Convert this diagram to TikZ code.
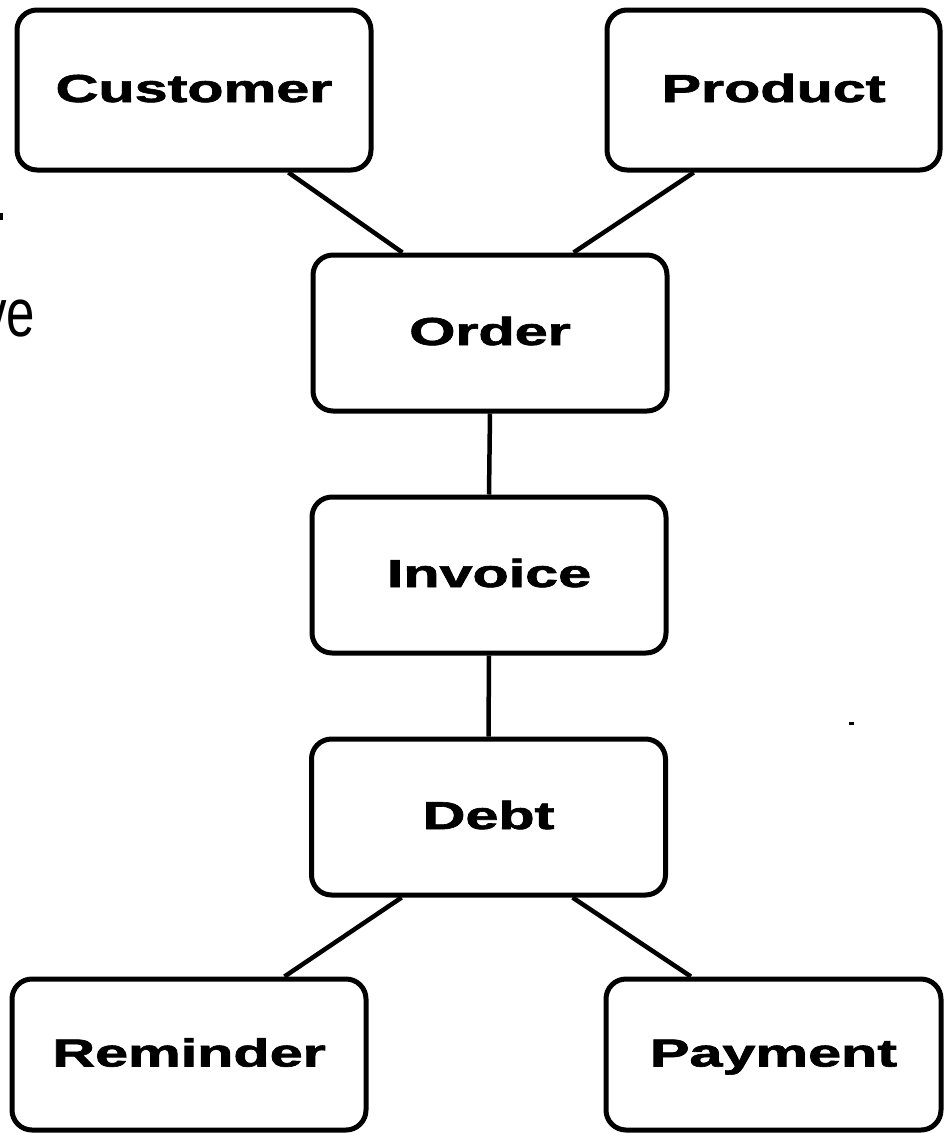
\documentclass[tikz,border=0pt]{standalone}
\usepackage{graphicx}
\usepackage{fontspec}
\setmainfont{Liberation Sans}
\newfontfamily\boxfont{Liberation Sans}[BoldFeatures={FakeBold=1.6}]
\usetikzlibrary{calc}
\tikzset{
  entity/.style={draw, line width=5pt, rounded corners=20pt, minimum width=354pt,
    minimum height=156pt, inner sep=0pt, text height=24pt, text depth=0pt,
    font=\boxfont\bfseries\fontsize{39}{47}\selectfont},
  link/.style={line width=4.5pt},
  stray/.style={fill=black},
}
\newcommand{\widetxt}[1]{\scalebox{1.52}[1]{#1}}
\begin{document}
\begin{tikzpicture}[x=1pt,y=-1pt]
\fill[white] (0,0) rectangle (943,1133);
\useasboundingbox (0,0) rectangle (943,1133);

\node[entity, minimum height=160pt] (cust) at (194,90) {\widetxt{Customer}};
\node[entity, minimum width=333pt, minimum height=160pt] (prod) at (773.5,90) {\widetxt{Product}};
\node[entity] (order) at (490,333) {\widetxt{Order}};
\node[entity] (inv) at (489,575) {\widetxt{Invoice}};
\node[entity] (debt) at (488.5,817) {\widetxt{Debt}};
\node[entity, minimum height=151pt] (rem) at (189,1054.5) {\widetxt{Reminder}};
\node[entity, minimum width=335pt, minimum height=151pt] (pay) at (773.5,1054.5) {\widetxt{Payment}};

\draw[link] ($(cust.south west)!0.763!(cust.south east)$) -- ($(order.north west)!0.256!(order.north east)$);
\draw[link] ($(prod.south west)!0.264!(prod.south east)$) -- ($(order.north west)!0.733!(order.north east)$);
\draw[link] (order.south) -- (inv.north);
\draw[link] (inv.south) -- (debt.north);
\draw[link] ($(debt.south west)!0.258!(debt.south east)$) -- ($(rem.north west)!0.766!(rem.north east)$);
\draw[link] ($(debt.south west)!0.734!(debt.south east)$) -- ($(pay.north west)!0.257!(pay.north east)$);

\node[anchor=base west, inner sep=0pt, font=\fontsize{68}{80}\selectfont] (ve) at (-19,336) {\scalebox{0.75}[1]{ve}};
\fill[stray] (0,213) rectangle (3,220);
\fill[stray] (849,722) rectangle (854,724.5);
\end{tikzpicture}
\end{document}
